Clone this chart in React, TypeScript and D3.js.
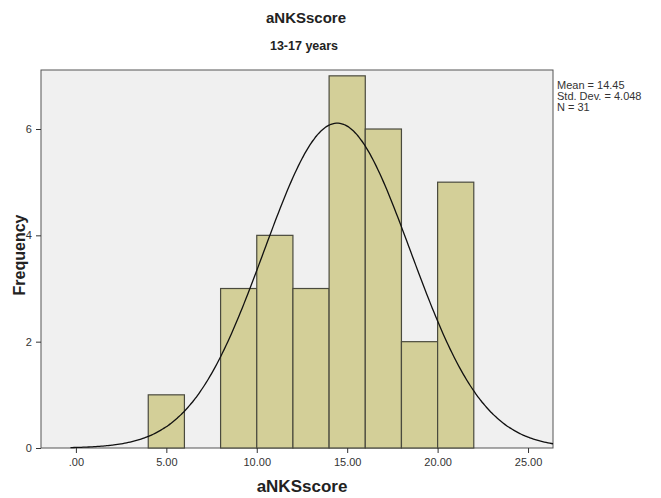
import { useEffect, useRef } from 'react';
import * as d3 from 'd3';

// histogram bins (lower edge) and counts
const binStarts = [4, 8, 10, 12, 14, 16, 18, 20];
const binWidth = 2;
const counts = [1, 3, 4, 3, 7, 6, 2, 5];
const xTicks = [0, 5, 10, 15, 20, 25];
const yTicks = [0, 2, 4, 6];
const stats = ['Mean = 14.45', 'Std. Dev. = 4.048', 'N = 31'];
const mean = 14.45;
const sd = 4.048;
const n = 31;

const App = () => {
  const ref = useRef<SVGSVGElement>(null);

  useEffect(() => {
    if (!ref.current) return;
    const svg = d3.select(ref.current);
    svg.selectAll('*').remove();

    const left = 41, right = 553, top = 70, bottom = 448;
    const x = d3.scaleLinear().domain([-1.93, 26.38]).range([left, right]);
    const y = d3.scaleLinear().domain([0, 7.11]).range([bottom, top]);

    const font = 'Arial, "Liberation Sans", sans-serif';

    // plot background
    svg.append('rect')
      .attr('x', left).attr('y', top)
      .attr('width', right - left).attr('height', bottom - top)
      .attr('fill', '#f0f0f0')
      .attr('stroke', '#555')
      .attr('stroke-width', 1);

    // bars
    svg.selectAll('rect.bar')
      .data(binStarts)
      .enter()
      .append('rect')
      .attr('class', 'bar')
      .attr('x', d => x(d))
      .attr('y', (d, i) => y(counts[i]))
      .attr('width', x(binWidth) - x(0))
      .attr('height', (d, i) => y(0) - y(counts[i]))
      .attr('fill', '#d3cf98')
      .attr('stroke', '#4a4a3e')
      .attr('stroke-width', 1.2);

    // normal curve scaled to counts
    const pts = d3.range(-0.3, 26.38, 0.1).concat([26.38]);
    const pdf = (v: number) =>
      (n * binWidth / (sd * Math.sqrt(2 * Math.PI))) * Math.exp(-0.5 * ((v - mean) / sd) ** 2);
    const line = d3.line<number>().x(d => x(d)).y(d => y(pdf(d))).curve(d3.curveBasis);
    svg.append('path')
      .attr('d', line(pts))
      .attr('fill', 'none')
      .attr('stroke', '#111')
      .attr('stroke-width', 1.3);

    // axes
    const xAxis = svg.append('g')
      .attr('transform', `translate(0,${bottom})`)
      .call(d3.axisBottom(x).tickValues(xTicks).tickSize(5).tickSizeOuter(0)
        .tickFormat(d => { const s = (d as number).toFixed(2); return s.startsWith('0') ? s.slice(1) : s; }));
    xAxis.select('.domain').remove();
    xAxis.selectAll('line').attr('stroke', '#333');
    xAxis.selectAll('text').attr('fill', '#333').style('font-family', font).style('font-size', '11px').attr('dy', '0.9em');

    const yAxis = svg.append('g')
      .attr('transform', `translate(${left},0)`)
      .call(d3.axisLeft(y).tickValues(yTicks).tickSize(5).tickSizeOuter(0));
    yAxis.select('.domain').remove();
    yAxis.selectAll('line').attr('stroke', '#333');
    yAxis.selectAll('text').attr('fill', '#333').style('font-family', font).style('font-size', '11px').attr('dx', '-0.1em');

    // titles
    svg.append('text')
      .attr('x', 306).attr('y', 23)
      .attr('text-anchor', 'middle')
      .style('font-family', font).style('font-size', '15px').style('font-weight', 'bold')
      .attr('fill', '#222')
      .text('aNKSscore');
    svg.append('text')
      .attr('x', 304).attr('y', 50)
      .attr('text-anchor', 'middle')
      .style('font-family', font).style('font-size', '12.5px').style('font-weight', 'bold')
      .attr('fill', '#222')
      .text('13-17 years');
    svg.append('text')
      .attr('x', 302).attr('y', 492)
      .attr('text-anchor', 'middle')
      .style('font-family', font).style('font-size', '17px').style('font-weight', 'bold')
      .attr('fill', '#222')
      .text('aNKSscore');
    svg.append('text')
      .attr('transform', `translate(19,255) rotate(-90)`)
      .attr('text-anchor', 'middle')
      .attr('dy', '0.35em')
      .style('font-family', font).style('font-size', '16px').style('font-weight', 'bold')
      .attr('fill', '#222')
      .text('Frequency');

    // stats text
    svg.selectAll('text.stat')
      .data(stats)
      .enter()
      .append('text')
      .attr('class', 'stat')
      .attr('x', 557)
      .attr('y', (d, i) => 89 + i * 11)
      .style('font-family', font).style('font-size', '11px')
      .attr('fill', '#333')
      .text(d => d);
  }, []);

  return (
    <div style={{ position: 'absolute', left: 0, top: 0, width: 661, height: 498, background: '#fff' }}>
      <svg ref={ref} width={661} height={498} style={{ display: 'block' }} />
    </div>
  );
};

export default App;
